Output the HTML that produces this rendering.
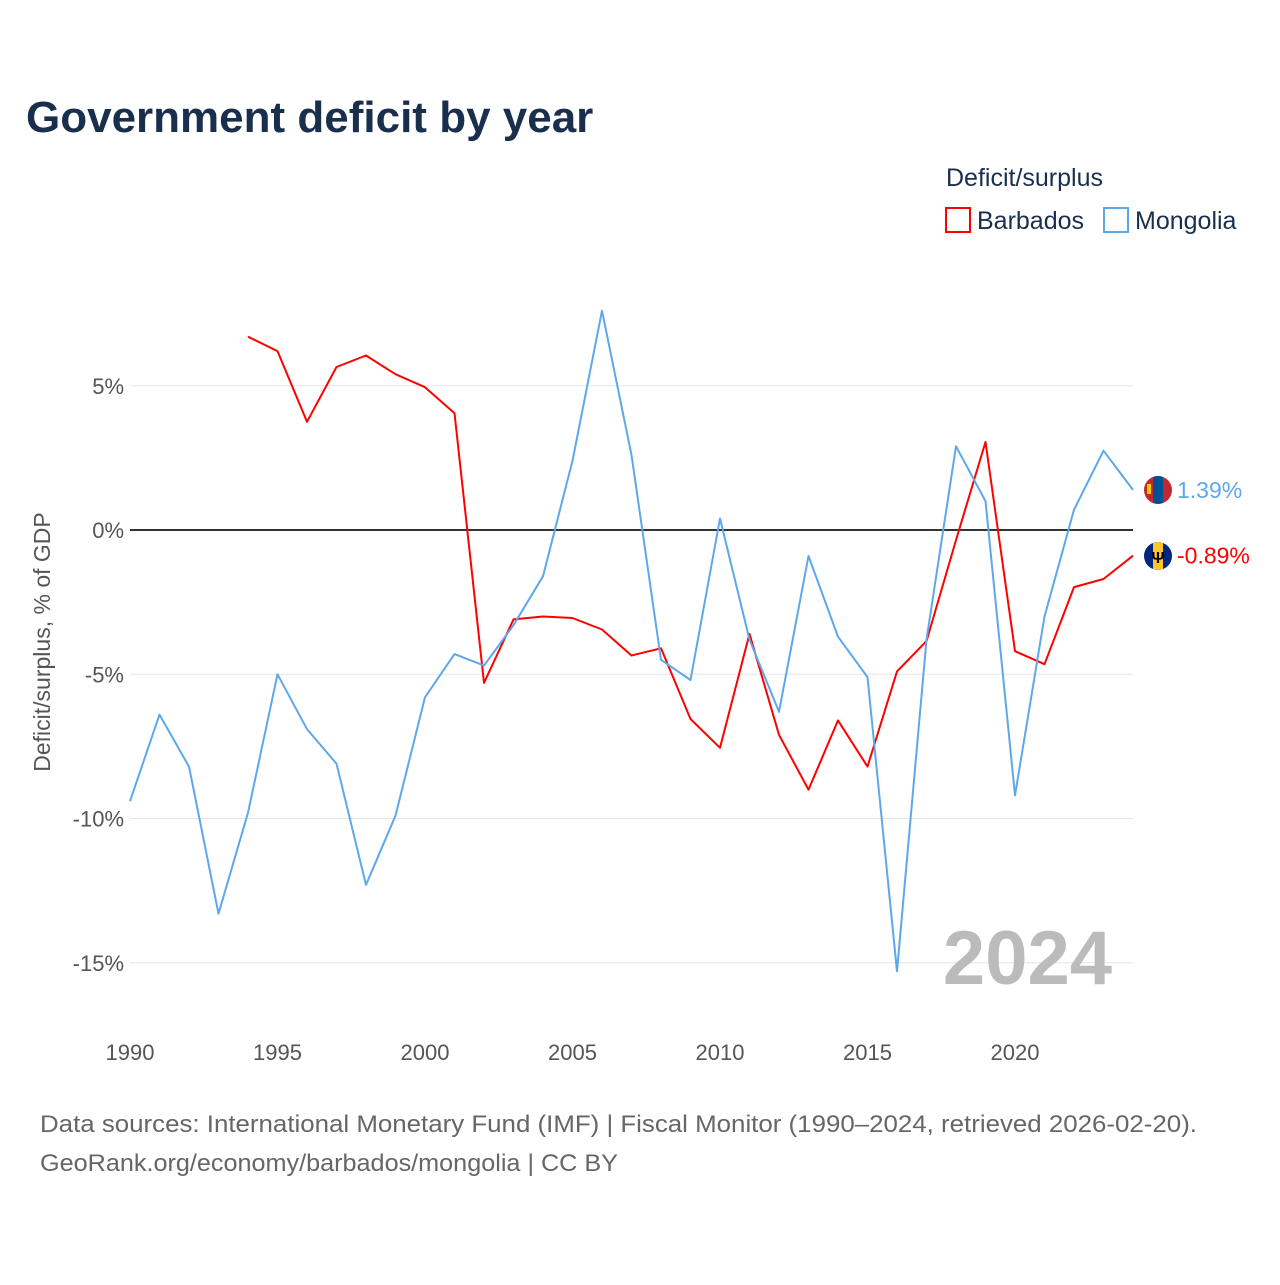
<!DOCTYPE html>
<html><head><meta charset="utf-8"><style>
body{margin:0;background:#fff;font-family:"Liberation Sans",sans-serif}
</style></head><body>
<svg id="chart" width="1280" height="1280" xmlns="http://www.w3.org/2000/svg">
<defs>
<clipPath id="cm"><circle cx="1158" cy="490" r="14"/></clipPath>
<clipPath id="cb"><circle cx="1158" cy="556" r="14"/></clipPath>
</defs>
<text x="26" y="132" font-size="44" font-weight="bold" fill="#1a2e4d">Government deficit by year</text>
<text x="946" y="186" font-size="25" fill="#1a2e4d">Deficit/surplus</text>
<g><rect x="946" y="208" width="24" height="24" fill="none" stroke="#ff0000" stroke-width="2"/><text x="977" y="229" font-size="25" fill="#1a2e4d">Barbados</text></g>
<g><rect x="1104" y="208" width="24" height="24" fill="none" stroke="#5ea8ea" stroke-width="2"/><text x="1135" y="229" font-size="25" fill="#1a2e4d">Mongolia</text></g>
<text transform="translate(50,642) rotate(-90)" text-anchor="middle" font-size="23" fill="#555">Deficit/surplus, % of GDP</text>
<g id="grid"></g><g id="yticks"></g><g id="xticks"></g>
<text x="1112" y="984" text-anchor="end" font-size="76" font-weight="bold" fill="#bbb">2024</text>
<g id="series"></g>
<g clip-path="url(#cm)"><rect x="1144" y="476" width="28" height="28" fill="#c4272f"/><rect x="1153" y="476" width="10" height="28" fill="#015197"/><rect x="1147" y="484" width="4" height="10" fill="#f9cf02"/></g>
<g clip-path="url(#cb)"><rect x="1144" y="542" width="28" height="28" fill="#00267f"/><rect x="1153" y="542" width="10" height="28" fill="#ffc726"/><text x="1158" y="563" text-anchor="middle" font-size="16" font-weight="bold" fill="#000">Ψ</text></g>
<text x="40" y="1132" font-size="24" fill="#666" textLength="1157" lengthAdjust="spacingAndGlyphs">Data sources: International Monetary Fund (IMF) | Fiscal Monitor (1990–2024, retrieved 2026-02-20).</text>
<text x="40" y="1171" font-size="24" fill="#666" textLength="578" lengthAdjust="spacingAndGlyphs">GeoRank.org/economy/barbados/mongolia | CC BY</text>
</svg>
<script>
const years=[];for(let y=1990;y<=2024;y++)years.push(y);
const mongolia=[-9.4,-6.4,-8.2,-13.3,-9.8,-5.0,-6.9,-8.1,-12.3,-9.9,-5.8,-4.3,-4.7,-3.3,-1.6,2.4,7.6,2.6,-4.5,-5.2,0.4,-3.8,-6.3,-0.9,-3.7,-5.1,-15.3,-3.8,2.9,1.0,-9.2,-3.0,0.7,2.75,1.39];
const barbados=[null,null,null,null,6.7,6.2,3.75,5.65,6.05,5.4,4.95,4.05,-5.3,-3.1,-3.0,-3.05,-3.45,-4.35,-4.1,-6.55,-7.55,-3.6,-7.1,-9.0,-6.6,-8.2,-4.9,-3.85,-0.35,3.05,-4.2,-4.65,-1.98,-1.7,-0.89];
const yTicks=[5,0,-5,-10,-15];
const xTicks=[1990,1995,2000,2005,2010,2015,2020];
const NS="http://www.w3.org/2000/svg";
const xs=y=>130+(y-1990)*29.5;
const ys=v=>530-v*28.85;
function mk(t,a,p){const e=document.createElementNS(NS,t);for(const k in a)e.setAttribute(k,a[k]);document.getElementById(p).appendChild(e);return e;}
yTicks.forEach(v=>{
 const l=mk('line',{x1:130,x2:1133,y1:ys(v),y2:ys(v),stroke:v===0?'#333':'#e6e6e6','stroke-width':v===0?2:1},'grid');
 
 
 const t=mk('text',{x:124,y:ys(v)+8,'text-anchor':'end','font-size':22,fill:'#555'},'yticks');
 t.textContent=v+'%';
 
 
});
xTicks.forEach(v=>{
 const t=mk('text',{x:xs(v),y:1060,'text-anchor':'middle','font-size':22,fill:'#555'},'xticks');
 t.textContent=v;
 
 
});
function line(vals,color,name){
 const pts=[];vals.forEach((v,i)=>{if(v!==null)pts.push(xs(years[i]).toFixed(1)+','+ys(v).toFixed(1));});
 const p=mk('polyline',{points:pts.join(' '),fill:'none',stroke:color,'stroke-width':2,'stroke-linejoin':'round'},'series');
 
 
}
line(barbados,'#ff0000','barbados-line');
line(mongolia,'#5ea8ea','mongolia-line');
function endLabel(v,color,name){
 const x=xs(2024),y=ys(v);
 const t=mk('text',{x:x+44,y:y+8,'font-size':23,fill:color},'series');
 t.textContent=v.toFixed(2)+'%';
 
 
}
endLabel(mongolia[mongolia.length-1],'#5ea8ea','mongolia');
endLabel(barbados[barbados.length-1],'#ff0000','barbados');
</script>
</body></html>
